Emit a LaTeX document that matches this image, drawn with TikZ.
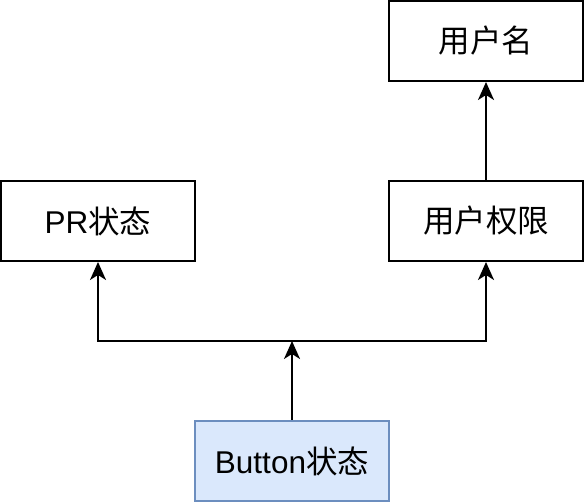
\documentclass[tikz,border=0pt]{standalone}
\usepackage{fontspec}
\setmainfont{Liberation Sans}
\newfontfamily\cjk{Noto Sans CJK SC}
\usetikzlibrary{arrows.meta}
\definecolor{bluefill}{HTML}{DAE8FC}
\definecolor{blueline}{HTML}{6C8EBF}
\begin{document}
\begin{tikzpicture}[x=1pt,y=-1pt,
  box/.style={draw=black,line width=2pt,fill=white,minimum width=194pt,minimum height=80pt,inner sep=0pt,font=\fontsize{31.5}{36}\selectfont},
  bluebox/.style={box,draw=blueline,fill=bluefill},
  arr/.style={line width=2pt,-{Stealth[length=18pt,width=16pt,inset=5pt]}}]
\useasboundingbox (0,0) rectangle (584,502);
\node[box] (name) at (486,41) {\cjk 用户名};
\node[box] (pr) at (98,221) {PR{\cjk 状态}};
\node[box] (perm) at (486,221) {\cjk 用户权限};
\node[bluebox] (btn) at (292,461) {Button{\cjk 状态}};
\coordinate (j) at (292,341);
\draw[arr] (btn) -- (j);
\draw[arr] (j) -| (pr);
\draw[arr] (j) -| (perm);
\draw[arr] (perm) -- (name);
\end{tikzpicture}
\end{document}
